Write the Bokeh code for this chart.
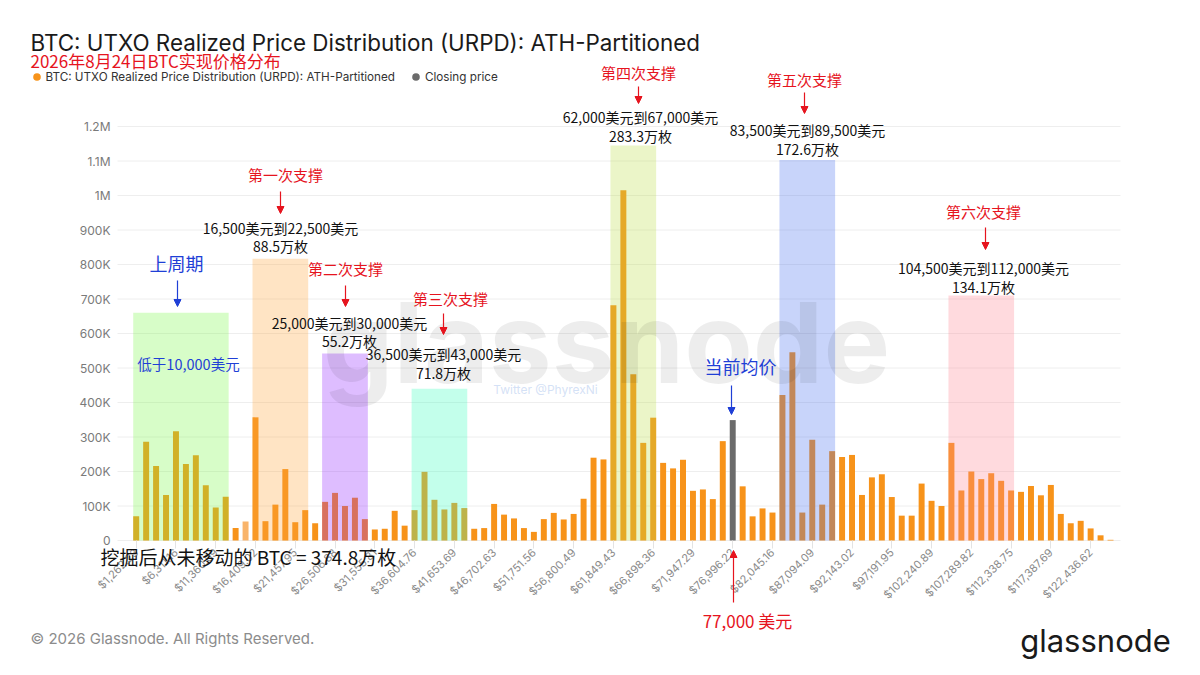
import math
from bokeh.plotting import figure
from bokeh.models import (Range1d, FixedTicker, Label, Arrow, NormalHead, Legend,
                          LegendItem, ColumnDataSource, LinearAxis)
from bokeh.embed import file_html
from bokeh.resources import INLINE

# ---------------- data ----------------
bins = list(range(1, 100))  # ATH-partitioned price buckets (index)
supply = [70000, 286000, 216000, 132000, 317000, 222000, 247000, 160000, 96000, 127000,
          36000, 55000, 357000, 56000, 104000, 207000, 53000, 88000, 50000,
          112000, 138000, 100000, 124000, 62000, 32000, 34000, 86000, 43000,
          88000, 199000, 118000, 90000, 109000, 94000, 34000, 36000, 106000, 75000,
          64000, 36000, 25000, 62000, 80000, 61000, 77000, 121000, 240000, 235000,
          682000, 1015000, 482000, 283000, 356000, 225000, 209000, 234000, 144000, 148000,
          120000, 288000, 349000, 157000, 70000, 93000, 81000, 422000, 546000, 81000,
          292000, 104000, 259000, 242000, 248000, 132000, 183000, 192000, 126000, 72000,
          72000, 165000, 115000, 100000, 283000, 145000, 200000, 178000, 195000, 173000,
          145000, 141000, 158000, 131000, 161000, 77000, 50000, 57000, 35000, 15000, 2000]
closing_bin = 61

tick_bins = [1, 5, 9, 13, 17, 21, 25, 29, 33, 37, 41, 45, 49, 53, 57, 61, 65, 69, 73,
             77, 81, 85, 89, 93, 97]
tick_labels = ["$1,262.23", "$6,311.16", "$11,360.09", "$16,409.02", "$21,457.95",
               "$26,506.88", "$31,555.81", "$36,604.76", "$41,653.69", "$46,702.63",
               "$51,751.56", "$56,800.49", "$61,849.43", "$66,898.36", "$71,947.29",
               "$76,996.22", "$82,045.16", "$87,094.09", "$92,143.02", "$97,191.95",
               "$102,240.89", "$107,289.82", "$112,338.75", "$117,387.69", "$122,436.62"]
y_ticks = [0, 100000, 200000, 300000, 400000, 500000, 600000, 700000, 800000,
           900000, 1000000, 1100000, 1200000]
y_tick_labels = ["0", "100K", "200K", "300K", "400K", "500K", "600K", "700K", "800K",
                 "900K", "1M", "1.1M", "1.2M"]

# support zones: first bin, last bin, box top
zone_first = [1, 13, 20, 29, 49, 66, 83]
zone_last = [10, 18, 24, 34, 53, 71, 89]
zone_top = [660000, 817000, 542000, 440000, 1145000, 1103000, 710000]
zone_colors = ["#7af848", "#ffa53a", "#9126ff", "#37ffbc", "#bcde48", "#4870ee", "#ff8491"]

# ---------------- layout (frame = whole canvas, pixel -> data helpers) ----------------
W, H = 1184, 659
K = 9.942            # px per bin
BAR1_PX = 135.7      # x pixel of first bin
ZERO_PX = 540        # y pixel of value 0
PX_PER_100K = 34.5
X0 = 1 - BAR1_PX / K
X1 = X0 + W / K
Y0 = -(H - ZERO_PX) * 1e5 / PX_PER_100K
Y1 = ZERO_PX * 1e5 / PX_PER_100K

def dx(ix):
    return X0 + ix / K

def dy(iy):
    return (ZERO_PX - iy) * 1e5 / PX_PER_100K

p = figure(width=W, height=H, output_backend="svg", toolbar_location=None, title=None,
           x_range=Range1d(X0, X1), y_range=Range1d(Y0, Y1),
           x_axis_location=None, y_axis_location=None, min_border=0)
p.outline_line_color = None
p.background_fill_color = "white"
p.border_fill_color = "white"
p.grid.visible = False

# horizontal grid lines at the y ticks
GRID_L, GRID_R = dx(117), dx(1120)
p.segment(x0=[GRID_L] * len(y_ticks), y0=y_ticks, x1=[GRID_R] * len(y_ticks), y1=y_ticks,
          line_color="#eeeeee", line_width=1)

BAR_W = 0.6
colors = ["#6b6b6b" if b == closing_bin else "#f7931a" for b in bins]
colors[11] = "#f9b46a"
src = ColumnDataSource(dict(x=bins, top=supply, color=colors))
p.vbar(x="x", top="top", bottom=0, width=BAR_W, source=src, fill_color="color",
       line_color=None)

zsrc = ColumnDataSource(dict(left=[f - BAR_W / 2 for f in zone_first],
                             right=[l + BAR_W / 2 for l in zone_last],
                             top=zone_top, color=zone_colors))
p.quad(left="left", right="right", bottom=0, top="top", source=zsrc,
       fill_color="color", fill_alpha=0.3, line_color=None)

# axes (fixed inside the frame)
xaxis = LinearAxis(fixed_location=0, ticker=FixedTicker(ticks=tick_bins))
xaxis.major_label_overrides = {b: t for b, t in zip(tick_bins, tick_labels)}
xaxis.major_label_orientation = math.pi / 4
xaxis.axis_line_color = None
xaxis.major_tick_line_color = "#e3e3e3"
xaxis.major_tick_out = 8
xaxis.major_tick_in = 0
xaxis.minor_tick_line_color = None
xaxis.major_label_text_font = "Inter"
xaxis.major_label_text_font_size = "11px"
xaxis.major_label_text_color = "#8a8a8a"
xaxis.major_label_standoff = 2
p.add_layout(xaxis, "below")

yaxis = LinearAxis(fixed_location=dx(118), ticker=FixedTicker(ticks=y_ticks))
yaxis.major_label_overrides = {t: l for t, l in zip(y_ticks, y_tick_labels)}
yaxis.axis_line_color = None
yaxis.major_tick_line_color = None
yaxis.minor_tick_line_color = None
yaxis.major_label_text_font = "Inter"
yaxis.major_label_text_font_size = "12px"
yaxis.major_label_text_color = "#7a7a7a"
yaxis.major_label_standoff = 2
p.add_layout(yaxis, "left")

CJK = "Noto Sans CJK SC"
RED = "#e6141e"
BLUE = "#1f3fd6"

def lab(ix, iy, text, size, color="#111111", font=CJK, align="center",
        baseline="middle", alpha=1.0, style="normal"):
    p.add_layout(Label(x=dx(ix), y=dy(iy), text=text, text_font=font,
                       text_font_size=size, text_color=color, text_align=align,
                       text_baseline=baseline, text_alpha=alpha, text_font_style=style))

def arr(ix, iy0, iy1, color):
    p.add_layout(Arrow(x_start=dx(ix), y_start=dy(iy0), x_end=dx(ix), y_end=dy(iy1),
                       line_color=color, line_width=1.2,
                       end=NormalHead(size=7, fill_color=color, line_color=color)))

# watermark
lab(606, 341, "glassnode", "112px", color="#000000", font="Inter", alpha=0.07,
    style="bold")
lab(545, 389, "Twitter @PhyrexNi", "12px", color="#b8cdf0", font="Inter", alpha=0.6)

# titles
lab(30, 42, "BTC: UTXO Realized Price Distribution (URPD): ATH-Partitioned", "22.4px",
    color="#1a1a1a", font="Inter", align="left")
lab(30, 60, "2026年8月24日BTC实现价格分布", "17px", color=RED, align="left")

# annotations
lab(176, 262, "上周期", "18px", color=BLUE)
arr(177, 280, 306, BLUE)
lab(188, 363, "低于10,000美元", "14.5px", color=BLUE)

lab(285, 174, "第一次支撑", "15px", color=RED)
arr(280, 191, 213, RED)
lab(280, 227, "16,500美元到22,500美元", "14px")
lab(280, 245, "88.5万枚", "14px")

lab(345, 268, "第二次支撑", "15px", color=RED)
arr(345, 285, 306, RED)
lab(349, 322, "25,000美元到30,000美元", "14px")
lab(349, 340, "55.2万枚", "14px")

lab(450, 298, "第三次支撑", "15px", color=RED)
arr(443, 313, 334, RED)
lab(443, 353, "36,500美元到43,000美元", "14px")
lab(443, 372, "71.8万枚", "14px")

lab(638, 72, "第四次支撑", "15px", color=RED)
arr(638, 86, 103, RED)
lab(640, 116, "62,000美元到67,000美元", "14px")
lab(640, 135, "283.3万枚", "14px")

lab(804, 79, "第五次支撑", "15px", color=RED)
arr(804, 92, 113, RED)
lab(807, 129, "83,500美元到89,500美元", "14px")
lab(807, 148, "172.6万枚", "14px")

lab(983, 211, "第六次支撑", "15px", color=RED)
arr(985, 227, 249, RED)
lab(983, 267, "104,500美元到112,000美元", "14px")
lab(983, 286, "134.1万枚", "14px")

lab(740, 365, "当前均价", "18px", color=BLUE)
arr(731, 385, 414, BLUE)

lab(100, 556, "挖掘后从未移动的 BTC = 374.8万枚", "19px", align="left")

arr(733, 602, 550, RED)
lab(747, 620, "77,000 美元", "17px", color=RED)

# footer
lab(30, 638, "© 2026 Glassnode. All Rights Reserved.", "15px", color="#8c8c8c",
    font="Inter", align="left")
lab(1095, 640, "glassnode", "31px", color="#1a1a1a", font="Inter")

# legend (proxy dots: zero-size markers on the data, legend draws its own dot)
r1 = p.scatter(x="x", y="top", source=src, marker="circle", size=0,
               fill_color="#f7931a", line_color=None)
r2 = p.scatter(x=[closing_bin], y=[supply[closing_bin - 1]], marker="circle", size=0,
               fill_color="#6b6b6b", line_color=None)
legend = Legend(items=[
    LegendItem(label="BTC: UTXO Realized Price Distribution (URPD): ATH-Partitioned",
               renderers=[r1]),
    LegendItem(label="Closing price", renderers=[r2])],
    orientation="horizontal", location=(26.5, H - 86), margin=0, padding=0,
    spacing=11, glyph_width=19, glyph_height=19, label_height=18, label_standoff=-3,
    label_text_font="Inter", label_text_font_size="11.7px", label_text_color="#333333",
    background_fill_alpha=0, border_line_color=None)
p.add_layout(legend)

open("out.html", "w").write(file_html(p, INLINE))
